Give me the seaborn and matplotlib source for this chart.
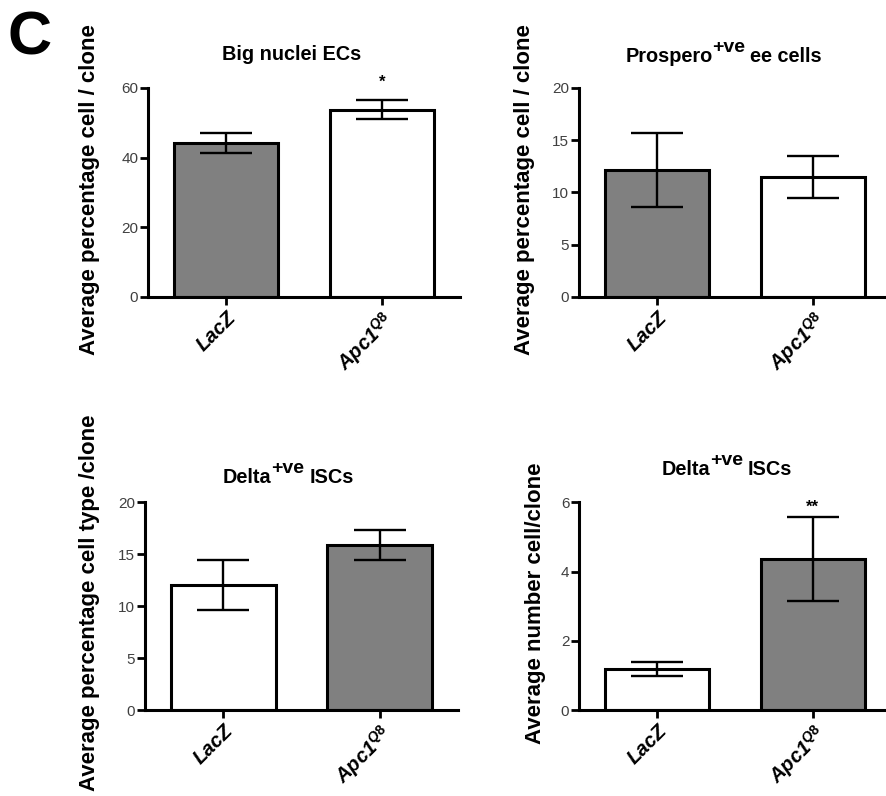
import matplotlib
matplotlib.use('Agg')
import matplotlib.pyplot as plt
import pandas as pd
import seaborn as sns

# genotypes and their tick labels
genotypes = ['LacZ', 'Apc1Q8']
tick_labels = ['LacZ', 'Apc1$^{Q8}$']

# panel values (mean, error)
big_nuclei_mean = [44.2, 53.7]
big_nuclei_err = [2.9, 2.75]
prospero_mean = [12.15, 11.45]
prospero_err = [3.5, 2.0]
delta_pct_mean = [12.0, 15.9]
delta_pct_err = [2.4, 1.45]
delta_num_mean = [1.19, 4.36]
delta_num_err = [0.2, 1.22]

# titles split into (text, superscript, rest)
titles = [('Big nuclei ECs', '', ''),
          ('Prospero', '+ve', 'ee cells'),
          ('Delta', '+ve', 'ISCs'),
          ('Delta', '+ve', 'ISCs')]
ylabels = ['Average percentage cell / clone',
           'Average percentage cell / clone',
           'Average percentage cell type /clone',
           'Average number cell/clone']
yticks = [[0, 20, 40, 60], [0, 5, 10, 15, 20], [0, 5, 10, 15, 20], [0, 2, 4, 6]]
stars = [['', '*'], ['', ''], ['', ''], ['', '**']]
star_y = [61.5, None, None, 5.85]

gray = '#808080'
white = '#ffffff'
fills = [[gray, white], [gray, white], [white, gray], [white, gray]]

means = [big_nuclei_mean, prospero_mean, delta_pct_mean, delta_num_mean]
errs = [big_nuclei_err, prospero_err, delta_pct_err, delta_num_err]

# layout
positions = [[0.167, 0.627, 0.352, 0.2626],
             [0.6535, 0.627, 0.352, 0.2626],
             [0.1637, 0.108, 0.353, 0.261],
             [0.6535, 0.108, 0.352, 0.261]]
title_left = [0.237, 0.148, 0.249, 0.264]
title_pad = [28, 26, 19, 27]   # pixels from axes top to baseline
ylabel_x = [-0.154, -0.141, -0.144, -0.106]

sns.set_theme(style='ticks')
plt.rcParams['font.family'] = ['Liberation Sans', 'DejaVu Sans']
plt.rcParams['text.color'] = 'black'
plt.rcParams['axes.labelcolor'] = 'black'
plt.rcParams['xtick.color'] = 'black'
plt.rcParams['ytick.color'] = 'black'
plt.rcParams['axes.edgecolor'] = 'black'
plt.rcParams['mathtext.fontset'] = 'custom'
plt.rcParams['mathtext.rm'] = 'Liberation Sans:bold'
plt.rcParams['mathtext.bf'] = 'Liberation Sans:bold'
plt.rcParams['mathtext.it'] = 'Liberation Sans:bold:italic'

fig = plt.figure(figsize=(8.86, 7.96), dpi=100)

for i in range(4):
    ax = fig.add_axes(positions[i])
    df = pd.DataFrame({'genotype': genotypes, 'value': means[i]})
    sns.barplot(data=df, x='genotype', y='value', hue='genotype',
                palette=fills[i], width=0.67, edgecolor='black', linewidth=2.2,
                errorbar=None, legend=False, saturation=1, ax=ax)
    ax.errorbar(x=range(len(genotypes)), y=means[i], yerr=errs[i], fmt='none',
                ecolor='black', elinewidth=1.7, capsize=19, capthick=1.7, zorder=3)

    for j, s in enumerate(stars[i]):
        if s:
            ax.text(j, star_y[i], s, ha='center', va='center', fontsize=12,
                    fontweight='bold', clip_on=False)

    ax.set_xlim(-0.5, 1.5)
    ax.set_ylim(0, yticks[i][-1])
    ax.set_yticks(yticks[i])
    ax.set_xticks(range(len(genotypes)))
    ax.set_xticklabels(tick_labels, rotation=45, ha='right', va='top',
                       rotation_mode='anchor', fontsize=14.5, fontweight='bold',
                       fontstyle='italic')
    ax.set_xlabel('')
    ax.set_ylabel(ylabels[i], fontsize=16, fontweight='bold')
    ax.yaxis.set_label_coords(ylabel_x[i], 0.515)

    # title with a near full-size raised superscript
    main, sup, rest = titles[i]
    t1 = ax.annotate(main, xy=(title_left[i], 1), xycoords='axes fraction',
                     xytext=(0, title_pad[i]), textcoords='offset pixels',
                     ha='left', va='baseline', fontsize=14.3, fontweight='bold',
                     annotation_clip=False)
    if sup:
        t2 = ax.annotate(sup, xy=(1, 1), xycoords=(t1, 'axes fraction'),
                         xytext=(0, title_pad[i] + 10), textcoords='offset pixels',
                         ha='left', va='baseline', fontsize=14, fontweight='bold',
                         annotation_clip=False)
        ax.annotate(rest, xy=(1, 1), xycoords=(t2, 'axes fraction'),
                    xytext=(5, title_pad[i]), textcoords='offset pixels',
                    ha='left', va='baseline', fontsize=14.3, fontweight='bold',
                    annotation_clip=False)

    sns.despine(ax=ax)
    for sp in ['left', 'bottom']:
        ax.spines[sp].set_linewidth(2.2)
    ax.tick_params(axis='both', width=2, length=6, direction='out')
    ax.tick_params(axis='y', labelsize=11, labelcolor='#404040', pad=1)
    ax.tick_params(axis='x', pad=2)

fig.text(0.008, 0.931, 'C', fontsize=44, fontweight='bold', va='baseline')

fig.savefig('out.png', dpi=100)
